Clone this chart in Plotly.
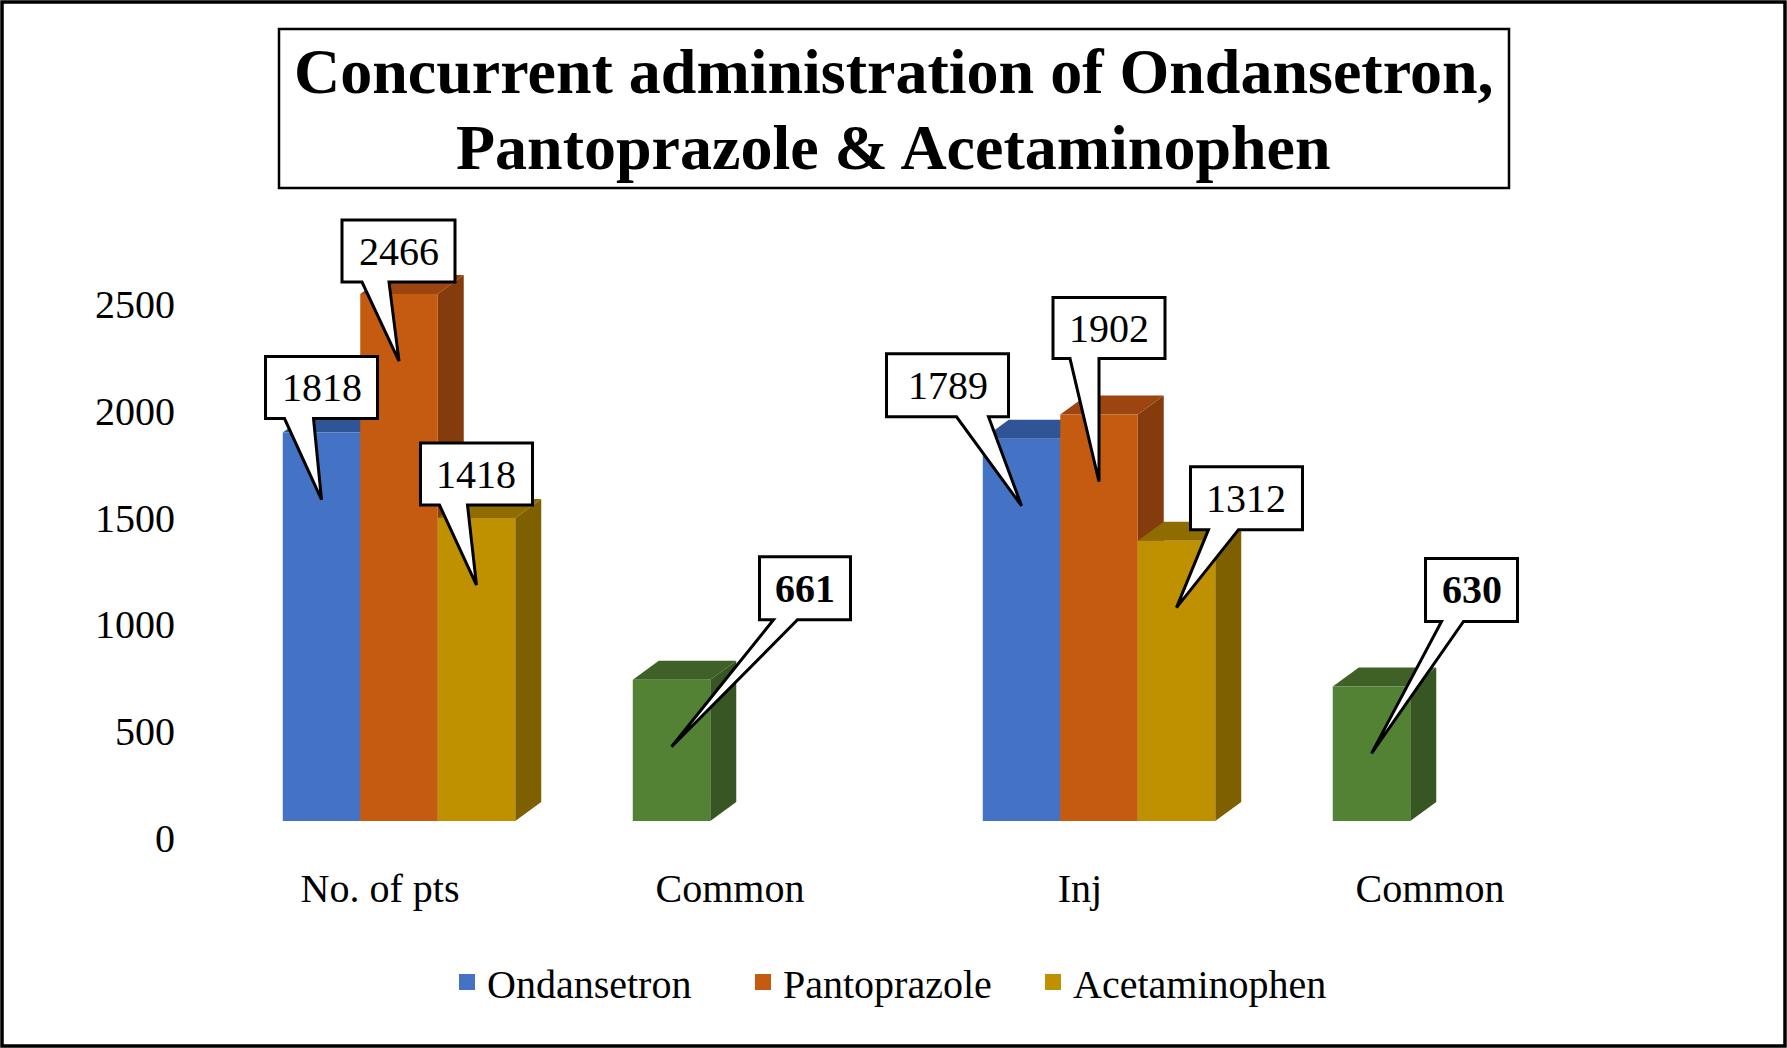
import plotly.graph_objects as go

# Chart data
categories = ["No. of pts", "Common", "Inj", "Common"]
ondansetron = [1818, None, 1789, None]
pantoprazole = [2466, None, 1902, None]
acetaminophen = [1418, None, 1312, None]
common = [None, 661, None, 630]
y_ticks = [0, 500, 1000, 1500, 2000, 2500]
title_lines = ["Concurrent administration of Ondansetron,",
               "Pantoprazole &amp; Acetaminophen"]

FONT = "Times New Roman, Liberation Serif, serif"

# Page geometry (pixels)
W, H = 1787, 1048
ML, MR, MT, MB = 224, 163, 180, 227
PW, PH = W - ML - MR, H - MT - MB
Y_TOP = 3000
BAR_W = 0.2214
# fake 3D depth of the columns, in pixels -> data units
DX = 26 * len(categories) / PW
DY = 19 * Y_TOP / PH


def px_x(p):  # page pixel -> paper x
    return (p - ML) / PW


def px_y(p):  # page pixel from top -> paper y
    return (H - MB - p) / PH


series = [
    dict(name="Ondansetron", y=ondansetron, slot=0, front="#4472C4",
         top="#2F5597", side="#2A4A85", legend="legend", bold=False),
    dict(name="Pantoprazole", y=pantoprazole, slot=1, front="#C55A11",
         top="#9C4510", side="#843C0C", legend="legend2", bold=False),
    dict(name="Acetaminophen", y=acetaminophen, slot=2, front="#BF9000",
         top="#8F6C00", side="#7F6000", legend="legend3", bold=False),
    dict(name="Common", y=common, slot=0, front="#548235",
         top="#3F6128", side="#375623", legend=None, bold=True),
]
by_name = {s["name"]: s for s in series}

# callout boxes, pixels relative to the top centre of the column:
# left, right, bottom, top, wedge start, wedge end
callouts = {
    ("Ondansetron", 0): (-56, 56, 14, 76, -37, -8),
    ("Pantoprazole", 0): (-57, 56, 12, 74, -37, -10),
    ("Acetaminophen", 0): (-56, 56, 13, 75, -37, -9),
    ("Common", 1): (88, 179, 60, 123, 102, 126),
    ("Ondansetron", 2): (-135, -13, 22, 85, -65, -33),
    ("Pantoprazole", 2): (-46, 66, 56, 117, -29, 0),
    ("Acetaminophen", 2): (14, 126, 11, 74, 32, 62),
    ("Common", 3): (54, 146, 65, 128, 70, 92),
}
TIP = -67  # callout pointer tip, pixels below the column top

fig = go.Figure()
sides, tops = [], []
for s in series:
    off = (s["slot"] - 1.5) * BAR_W
    for i, v in enumerate(s["y"]):
        if v is None:
            continue
        l = i + off
        r = l + BAR_W
        sides.append(dict(type="path", layer="below", xref="x", yref="y",
                          line=dict(width=0), fillcolor=s["side"],
                          path=f"M{r},0 L{r + DX},{DY} L{r + DX},{v + DY} L{r},{v} Z"))
        tops.append(dict(type="path", layer="below", xref="x", yref="y",
                         line=dict(width=0), fillcolor=s["top"],
                         path=f"M{l},{v} L{l + DX},{v + DY} L{r + DX},{v + DY} L{r},{v} Z"))
    fig.add_trace(go.Bar(
        x=list(range(len(categories))), y=s["y"], name=s["name"],
        width=BAR_W, offset=off, marker_color=s["front"],
        marker_line_width=0, showlegend=False, hoverinfo="y"
    ))

# legend entries with bigger square swatches, one legend per entry
for s in series:
    if s["legend"]:
        fig.add_trace(go.Scatter(
            x=[None], y=[None], mode="markers", name=s["name"], legend=s["legend"],
            marker=dict(symbol="square", size=20, color=s["front"])
        ))

shapes = sides + tops
annotations = []
for (name, i), (L, R, B, T, a, b) in callouts.items():
    s = by_name[name]
    v = s["y"][i]
    cx = i + (s["slot"] - 1.5) * BAR_W + BAR_W / 2
    shapes.append(dict(
        type="path", layer="above", xref="x", yref="y",
        xsizemode="pixel", ysizemode="pixel", xanchor=cx, yanchor=v,
        path=f"M0,{TIP} L{a},{B} L{L},{B} L{L},{T} L{R},{T} L{R},{B} L{b},{B} Z",
        fillcolor="white", line=dict(color="black", width=3)
    ))
    txt = f"<b>{v}</b>" if s["bold"] else str(v)
    annotations.append(dict(
        x=cx, y=v, xref="x", yref="y", xshift=(L + R) / 2, yshift=(B + T) / 2,
        text=txt, showarrow=False, font=dict(family=FONT, size=40, color="black")
    ))

# title box and its two lines
shapes.append(dict(
    type="rect", xref="paper", yref="paper", layer="above",
    x0=px_x(279), x1=px_x(1509), y0=px_y(188), y1=px_y(29),
    line=dict(color="black", width=2.5), fillcolor="rgba(0,0,0,0)"
))
for line, yc in zip(title_lines, [72, 147]):
    annotations.append(dict(
        x=px_x(893.5), y=px_y(yc), xref="paper", yref="paper",
        xanchor="center", yanchor="middle", showarrow=False,
        text=f"<b>{line}</b>", font=dict(family=FONT, size=64, color="black")
    ))

# outer frame
shapes.append(dict(
    type="rect", xref="paper", yref="paper", layer="above",
    x0=px_x(2), x1=px_x(W - 2), y0=px_y(H - 2), y1=px_y(2),
    line=dict(color="black", width=3.5)
))

legend_style = dict(orientation="h", xref="container", yref="container",
                    xanchor="left", y=1 - 982 / H, yanchor="middle",
                    font=dict(family=FONT, size=40), bgcolor="rgba(0,0,0,0)")

fig.update_layout(
    width=W, height=H,
    margin=dict(l=ML, r=MR, t=MT, b=MB),
    barmode="overlay",
    paper_bgcolor="white", plot_bgcolor="white",
    font=dict(family=FONT, size=40, color="black"),
    shapes=shapes, annotations=annotations,
    legend=dict(legend_style, x=447 / W),
    legend2=dict(legend_style, x=743 / W),
    legend3=dict(legend_style, x=1033 / W),
    xaxis=dict(range=[-0.5, len(categories) - 0.5], tickvals=list(range(len(categories))),
               ticktext=categories, showgrid=False, zeroline=False, showline=False,
               ticks="", ticklabelshift=-19, ticklabelstandoff=40),
    yaxis=dict(range=[0, Y_TOP], tickvals=y_ticks, showgrid=False, zeroline=False,
               showline=False, ticks="", ticklabelshift=17, ticklabelstandoff=48),
)

fig.write_html("out.html", config={"displayModeBar": False},
               post_script="document.body.style.margin='0';")
